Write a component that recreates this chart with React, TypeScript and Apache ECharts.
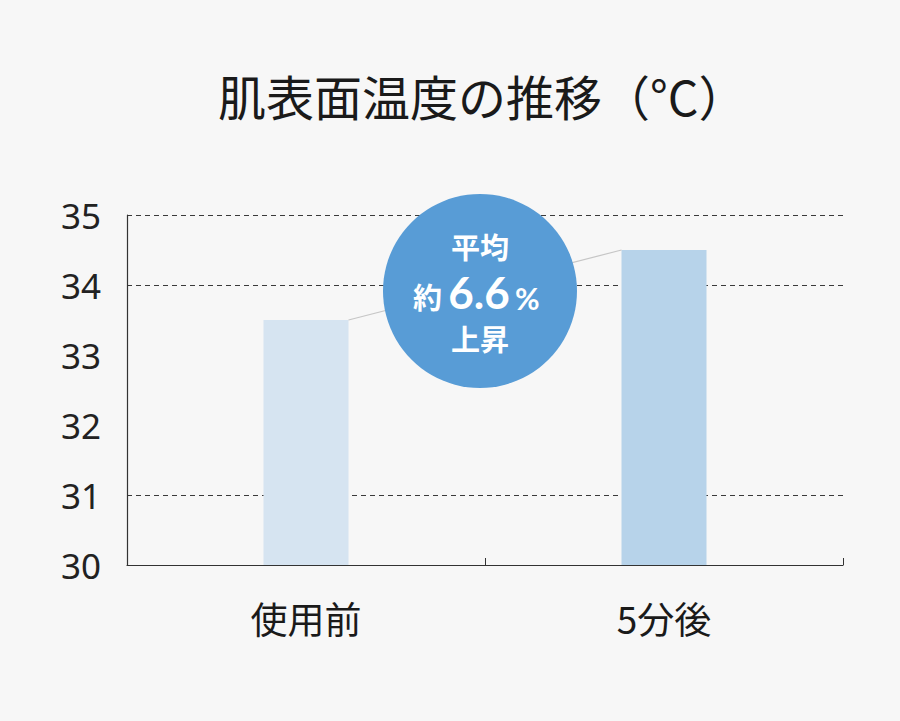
import { useEffect, useRef } from 'react';
import * as echarts from 'echarts';

// ---------------------------------------------------------------------------
// Data
// ---------------------------------------------------------------------------

const CATEGORIES = ['使用前', '5分後'];
const TEMPERATURES = [33.5, 34.5];
const BAR_COLORS = ['#d6e4f1', '#b7d3ea'];
const Y_MIN = 30;
const Y_MAX = 35;
// split lines are only drawn on some ticks (30..35)
const GRID_LINE_COLORS = ['#3a3a3a', '#3a3a3a', 'rgba(0,0,0,0)', 'rgba(0,0,0,0)', '#3a3a3a', '#3a3a3a'];

const TITLE = '肌表面温度の推移（°C）';
const BADGE_TOP = '平均';
const BADGE_PREFIX = '約';
const BADGE_VALUE = '6.6';
const BADGE_UNIT = '%';
const BADGE_BOTTOM = '上昇';

const BAR_WIDTH = 85;
const FONT = '"Noto Sans CJK JP", "Noto Sans", sans-serif';
const NUM_FONT = 'Lato, "Noto Sans", sans-serif';

// ---------------------------------------------------------------------------
// Option
// ---------------------------------------------------------------------------

function buildOption(): echarts.EChartsOption {
  return {
    animation: false,
    backgroundColor: '#f7f7f7',
    title: {
      text: TITLE,
      left: 213,
      top: 66,
      textStyle: { fontFamily: FONT, fontSize: 48, fontWeight: 'normal', color: '#1a1a1a' },
    },
    grid: { left: 127, right: 57, top: 215, bottom: 156, containLabel: false },
    xAxis: {
      type: 'category',
      data: CATEGORIES,
      axisLine: { lineStyle: { color: '#333', width: 1.2 } },
      axisTick: { show: true, inside: true, length: 7, lineStyle: { color: '#333' } },
      axisLabel: { fontFamily: FONT, fontSize: 37, color: '#1a1a1a', margin: 34 },
      splitLine: { show: false },
    },
    yAxis: {
      type: 'value',
      min: Y_MIN,
      max: Y_MAX,
      interval: 1,
      axisLine: { show: true, lineStyle: { color: '#333', width: 1.2 } },
      axisTick: { show: false },
      axisLabel: { fontFamily: '"Noto Sans", sans-serif', fontSize: 35, color: '#222', margin: 26, padding: [6, 0, 0, 0] },
      splitLine: { show: true, lineStyle: { color: GRID_LINE_COLORS, type: [5, 4], width: 1 } },
    },
    series: [
      {
        type: 'bar',
        barWidth: BAR_WIDTH,
        data: TEMPERATURES.map((v, i) => ({ value: v, itemStyle: { color: BAR_COLORS[i] } })),
      },
    ],
  };
}

function badgeText(text: string, x: number, y: number, size: number, font: string, align = 'center') {
  return {
    type: 'text',
    z: 11,
    x,
    y,
    style: {
      text, fill: '#fff', fontFamily: font, fontSize: size, fontWeight: 'bold',
      align, verticalAlign: 'middle',
    },
  };
}

function buildGraphics(chart: echarts.ECharts): any[] {
  const p0 = chart.convertToPixel({ seriesIndex: 0 }, [0, TEMPERATURES[0]]) as number[];
  const p1 = chart.convertToPixel({ seriesIndex: 0 }, [1, TEMPERATURES[1]]) as number[];
  const half = BAR_WIDTH / 2;
  const cx = 480;
  const cy = 291;
  return [
    {
      type: 'line',
      z: 5,
      shape: { x1: p0[0] + half, y1: p0[1], x2: p1[0] - half, y2: p1[1] },
      style: { stroke: '#c6c6c6', lineWidth: 1.2 },
    },
    {
      type: 'circle',
      z: 10,
      shape: { cx, cy, r: 97 },
      style: { fill: '#589cd6' },
    },
    badgeText(BADGE_TOP, cx, cy - 45, 29, FONT),
    badgeText(BADGE_PREFIX, cx - 38, cy + 5, 29, FONT, 'right'),
    badgeText(BADGE_VALUE, cx - 1, cy + 1, 44, NUM_FONT),
    badgeText(BADGE_UNIT, cx + 35, cy + 7, 30, NUM_FONT, 'left'),
    badgeText(BADGE_BOTTOM, cx, cy + 47, 29, FONT),
  ];
}

// ---------------------------------------------------------------------------
// Component
// ---------------------------------------------------------------------------

export default function App() {
  const containerRef = useRef<HTMLDivElement | null>(null);

  useEffect(() => {
    document.body.style.margin = '0';
    if (!containerRef.current) return;
    const chart = echarts.init(containerRef.current, undefined, { renderer: 'svg' });
    chart.setOption(buildOption());
    chart.setOption({ graphic: buildGraphics(chart) });
    return () => {
      chart.dispose();
    };
  }, []);

  return <div ref={containerRef} style={{ width: 900, height: 721 }} />;
}
